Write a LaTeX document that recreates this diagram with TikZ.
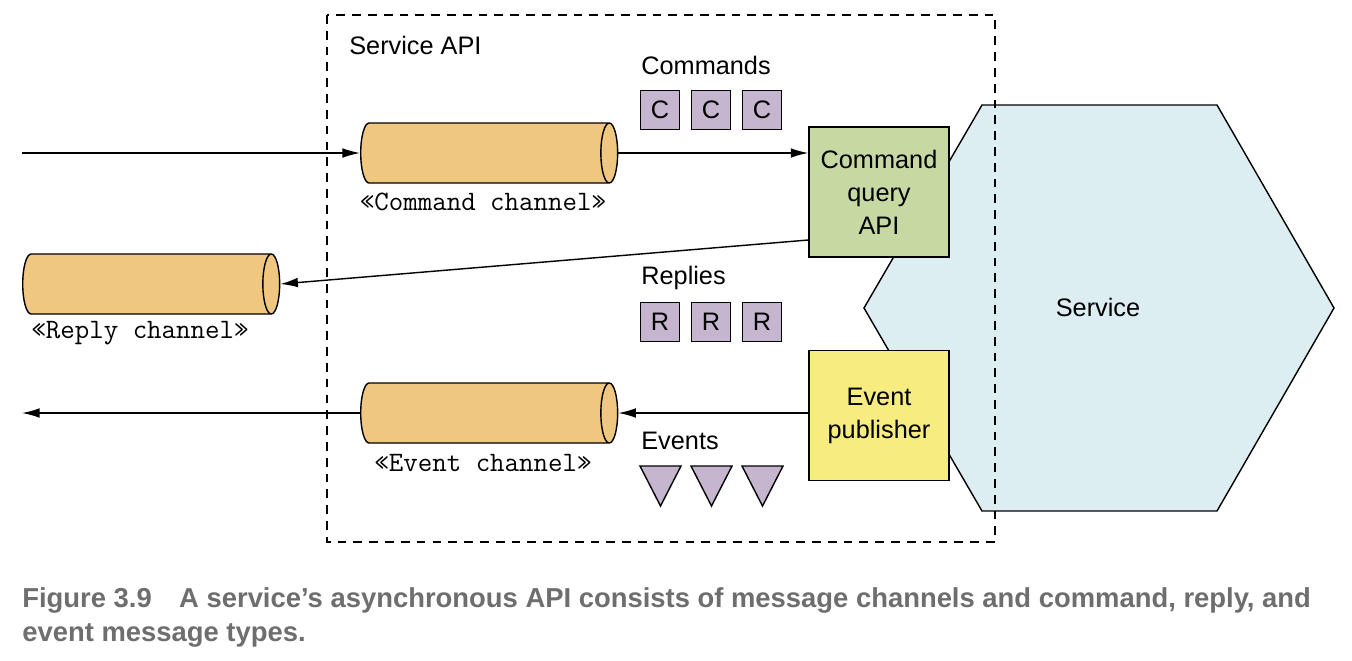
\documentclass[tikz,border=0pt]{standalone}
\usepackage{fontspec}
\setmainfont{Liberation Sans}
\newfontfamily\capfont{Liberation Sans}
\usetikzlibrary{shapes.geometric,arrows.meta}
\definecolor{chanFill}{HTML}{EFC780}
\definecolor{apiFill}{HTML}{C7D9A3}
\definecolor{pubFill}{HTML}{F6EC80}
\definecolor{svcFill}{HTML}{DDEEF3}
\definecolor{msgFill}{HTML}{C5B5CF}
\definecolor{capGray}{HTML}{6E6E6E}
\begin{document}
\begin{tikzpicture}
        [x=0.02cm, y=-0.02cm,
        txt/.style={font=\fontsize{14.4}{19}\selectfont, inner sep=0pt},
        chan/.style={cylinder, draw, thick, fill=chanFill, shape border rotate=0, aspect=0.28, minimum height=5.14cm, inner xsep=0pt, inner ysep=0.6cm, anchor=west},
        chanLabel/.style={font=\ttfamily\fontsize{16}{18}\selectfont, inner sep=0pt},
        msgBox/.style={rectangle, draw, thick, fill=msgFill, minimum size=0.78cm, inner sep=0pt, font=\fontsize{14.4}{16}\selectfont},
        evMark/.style={draw, thick, fill=msgFill, line join=miter},
        apiBox/.style={rectangle, draw, thick, minimum width=2.8cm, minimum height=2.6cm, align=center, font=\fontsize{14.4}{18.7}\selectfont},
        apiBorder/.style={thick, dash pattern=on 5pt off 4pt},
        flow/.style={thick, -{Latex[length=10pt, width=5.5pt]}},
        capLine/.style={anchor=base west, inner sep=0pt, text=capGray, font=\capfont\bfseries\fontsize{15.6}{19}\selectfont}]
        \useasboundingbox (0,0) rectangle (1352,660);

        % service hexagon
        \draw[thick, fill=svcFill] (982,105) -- (1217,105) -- (1334,308) -- (1217,511) -- (982,511) -- (864,308) -- cycle;
        \node[txt] (svc) at (1098,307) {Service};

        % service API border
        \draw[apiBorder] (327,15) rectangle (995,542);
        \node[txt, anchor=west] (apiTitle) at (349,45) {Service API};

        % adapters
        \node[apiBox, fill=apiFill] (cqa) at (879,192) {Command\\query\\API};
        \node[apiBox, fill=pubFill] (evp) at (879,415.5) {Event\\publisher};

        % channels
        \node[chan] (cmdCh) at (360,153) {};
        \node[chanLabel] (cmdLbl) at (483,202) {«Command channel»};
        \node[chan] (repCh) at (22,284) {};
        \node[chanLabel] (repLbl) at (140,333) {«Reply channel»};
        \node[chan] (evCh) at (360,413) {};
        \node[chanLabel] (evLbl) at (483,463) {«Event channel»};

        % message types
        \node[txt, anchor=west] (cmdTitle) at (641,65) {Commands};
        \node[msgBox] (c1) at (660,110) {C};
        \node[msgBox] (c2) at (711,110) {C};
        \node[msgBox] (c3) at (762,110) {C};
        \node[txt, anchor=west] (repTitle) at (641,278) {Replies};
        \node[msgBox] (r1) at (660,322) {R};
        \node[msgBox] (r2) at (711,322) {R};
        \node[msgBox] (r3) at (762,322) {R};
        \node[txt, anchor=west] (evTitle) at (641,441) {Events};
        \draw[evMark] (640,466) -- (681,466) -- (660.5,506) -- cycle;
        \draw[evMark] (691,466) -- (732,466) -- (711.5,506) -- cycle;
        \draw[evMark] (742,466) -- (783,466) -- (762.5,506) -- cycle;

        % flows
        \coordinate (cmdIn) at (22,153);
        \coordinate (evOut) at (22,413);
        \draw[flow] (cmdIn) -- (cmdCh.west);
        \draw[flow] (cmdCh.east) -- (cmdCh.east -| cqa.west);
        \draw[flow] ([yshift=-0.96cm]cqa.west) -- (repCh.east);
        \draw[flow] (evp.west |- evCh.east) -- (evCh.east);
        \draw[flow] (evCh.west) -- (evOut);

        % caption
        \node[capLine] (cap1) at (22,607) {Figure 3.9\quad A service’s asynchronous API consists of message channels and command, reply, and};
        \node[capLine] (cap2) at (22,641) {event message types.};
\end{tikzpicture}
\end{document}
